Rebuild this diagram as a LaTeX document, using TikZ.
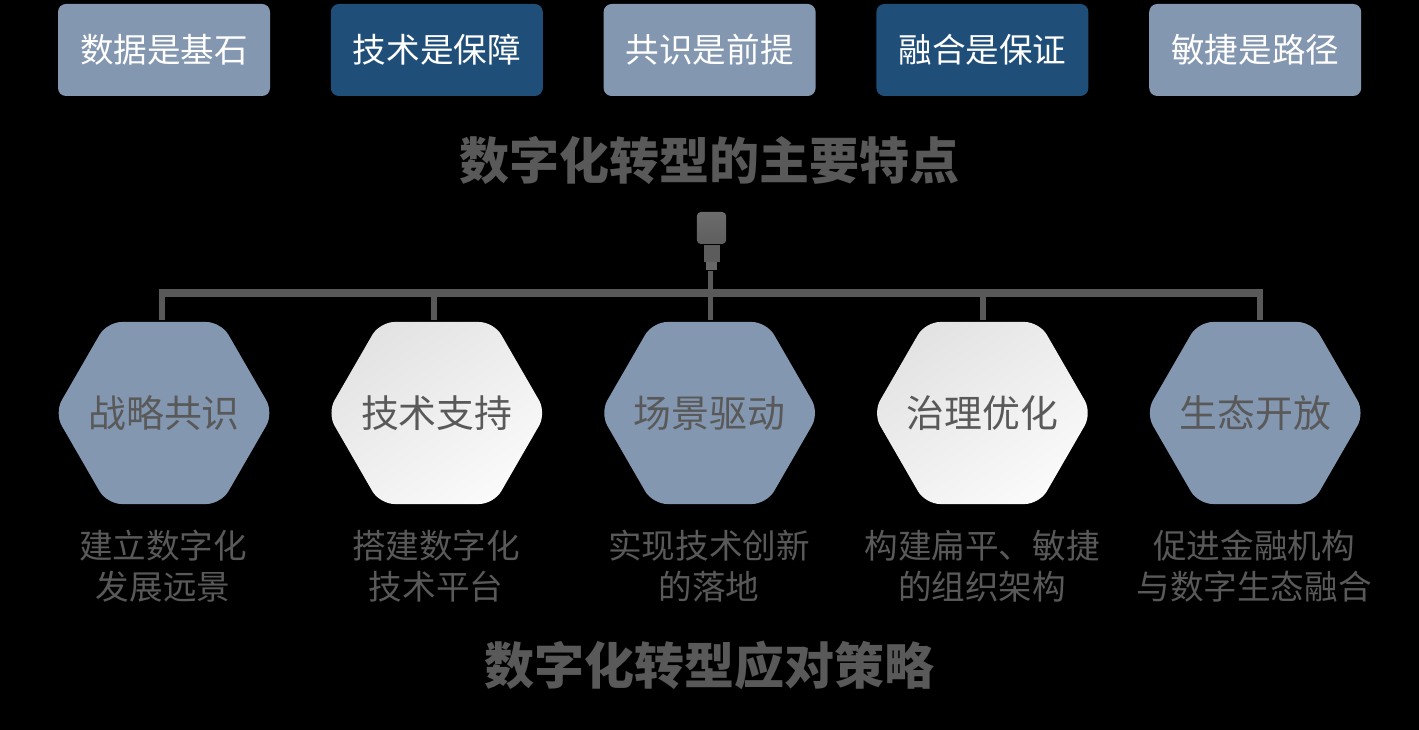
\documentclass[tikz,border=0pt]{standalone}
\usepackage{fontspec}
\setmainfont{Noto Sans CJK SC}
\usepackage{xcolor}
\usetikzlibrary{shapes,shapes.symbols,arrows,positioning}
\definecolor{slateblue}{HTML}{8497B0}
\definecolor{deepblue}{HTML}{1F4E79}
\definecolor{darkgrey}{HTML}{595959}

\begin{document}
\begin{tikzpicture}[x=0.75pt, y=-0.75pt, node distance=204.6pt]
\tikzstyle{card} = [rectangle, rounded corners=6pt, minimum width=159pt, minimum height=69pt, inner sep=0pt, text=white, font=\fontsize{25.2}{30}\selectfont]
\tikzstyle{cardlight} = [card, fill=slateblue]
\tikzstyle{carddark} = [card, fill=deepblue]
\tikzstyle{hexa} = [signal, signal from=nowhere, signal to=east and west, signal pointer angle=120, rounded corners=11pt, minimum height=136.5pt, inner ysep=0pt, inner xsep=-14pt, text=darkgrey, font=\fontsize{28.4}{34}\selectfont]
\tikzstyle{hexblue} = [hexa, fill=slateblue]
\tikzstyle{hexwhite} = [hexa, top color=black!11, bottom color=black!2, shading angle=35]
\tikzstyle{caption} = [text=darkgrey, align=center, font=\fontsize{25.2}{30.75}\selectfont]
\tikzstyle{headline} = [text=darkgrey, font=\fontsize{37.5}{44}\selectfont\bfseries]
\tikzstyle{busline} = [line width=5.6pt, draw=darkgrey]
\tikzstyle{dropline} = [line width=4pt, draw=darkgrey, shorten >=1.5pt]

\useasboundingbox (0,0) rectangle (1419,730);
\fill [black] (0,0) rectangle (1419,730);

% top row
\node [cardlight] (basis) at (164,50) {数据是基石};
\node [carddark, right of=basis] (tech) {技术是保障};
\node [cardlight, right of=tech] (consensus) {共识是前提};
\node [carddark, right of=consensus] (merge) {融合是保证};
\node [cardlight, right of=merge] (agile) {敏捷是路径};
\node [headline] (traits) at (709,161) {数字化转型的主要特点};

% plug
\node [rectangle, rounded corners=3pt, minimum width=22pt, minimum height=24pt, inner sep=0pt, top color=black!58, bottom color=black!63] (plug) at (711.5,228) {};
\node [rectangle, minimum width=12pt, minimum height=13pt, inner sep=0pt, fill=black!64, below=0pt of plug] (neck) {};
\node [rectangle, minimum width=8pt, minimum height=6pt, inner sep=0pt, fill=black!60, below=0pt of neck] (tail) {};

% hexagons
\node [hexblue] (strategy) at (164,413) {战略共识};
\node [hexwhite, right of=strategy] (support) {技术支持};
\node [hexblue, right of=support] (scene) {场景驱动};
\node [hexwhite, right of=scene] (govern) {治理优化};
\node [hexblue, right of=govern] (eco) {生态开放};

\node [caption] (capa) at (163,566) {建立数字化\\发展远景};
\node [caption] (capb) at (436,566) {搭建数字化\\技术平台};
\node [caption] (capc) at (709,566) {实现技术创新\\的落地};
\node [caption] (capd) at (982,566) {构建扁平、敏捷\\的组织架构};
\node [caption] (cape) at (1254,566) {促进金融机构\\与数字生态融合};
\node [headline] (plans) at (709,665) {数字化转型应对策略};

% bus
\coordinate (busa) at (162,293);
\coordinate (busb) at (434,293);
\coordinate (busc) at (710.5,293);
\coordinate (busd) at (983,293);
\coordinate (buse) at (1260,293);

\draw [busline] ([xshift=-2.25pt]busa) -- ([xshift=2.25pt]buse);
\draw [dropline] (busa) -- (busa |- strategy.north);
\draw [dropline] (busb) -- (busb |- support.north);
\draw [dropline] (busc) -- (busc |- scene.north);
\draw [dropline] (busd) -- (busd |- govern.north);
\draw [dropline] (buse) -- (buse |- eco.north);
\draw [dropline, shorten >=0pt] (tail.south -| busc) -- (busc);
\end{tikzpicture}
\end{document}
